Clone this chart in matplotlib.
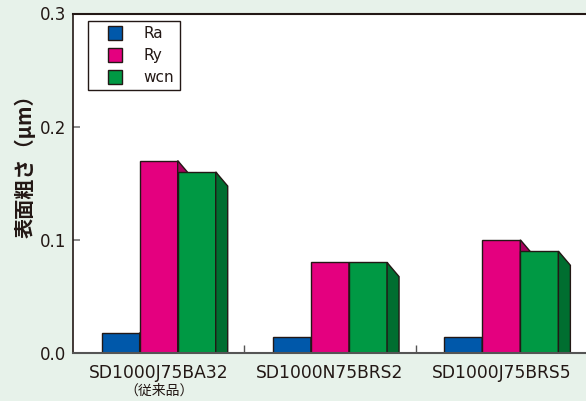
import numpy as np
import matplotlib
matplotlib.use("Agg")
import matplotlib.pyplot as plt
from matplotlib.patches import Polygon
from matplotlib.lines import Line2D

# データ
grades = ["SD1000J75BA32", "SD1000N75BRS2", "SD1000J75BRS5"]
series = ["Ra", "Ry", "wcn"]
ra = [0.018, 0.014, 0.014]
ry = [0.170, 0.080, 0.100]
wcn = [0.160, 0.080, 0.090]
yticks = [0.0, 0.1, 0.2, 0.3]

front = ["#0058aa", "#e4007f", "#009944"]
side = ["#003d7a", "#a8005e", "#006e30"]
edge = "#231815"
bg = "#e7f2ea"

jp = ["Noto Sans CJK JP", "DejaVu Sans"]

fig = plt.figure(figsize=(5.86, 4.01), dpi=100, facecolor=bg)
ax = fig.add_axes([73/586, 48/401, 514/586, 339.5/401])
ax.set_facecolor("white")

x = np.arange(len(grades))
w = 0.222
dx = 0.070   # 奥行き(横)
dy = 0.0125  # 奥行き(縦)

vals = [ra, ry, wcn]
z = 2
for g in range(len(grades)):
    for k in range(3):
        xc = x[g] + (k - 1) * w
        v = vals[k][g]
        ax.bar(xc, v, width=w, color=front[k], edgecolor=edge, linewidth=1.0, zorder=z)
        x1 = xc + w / 2
        pts = [(x1, v), (x1 + dx, v - dy), (x1 + dx, 0), (x1, 0)]
        ax.add_patch(Polygon(pts, closed=True, facecolor=side[k], edgecolor=edge,
                             linewidth=1.0, zorder=z + 0.5))
        z += 1

ax.set_xlim(-0.5, 2.5)
ax.set_ylim(0, 0.3)

ax.spines["right"].set_visible(False)
ax.spines["top"].set_color(edge)
ax.spines["top"].set_linewidth(1.5)
ax.spines["left"].set_color(edge)
ax.spines["left"].set_linewidth(1.2)
ax.spines["bottom"].set_color("#555555")
ax.spines["bottom"].set_linewidth(1.5)
ax.spines["bottom"].set_zorder(50)

ax.set_yticks(yticks)
ax.set_yticklabels([f"{t:.1f}" for t in yticks])
ax.tick_params(axis="y", direction="in", length=5, width=1.2, color="#777777",
               pad=5, labelsize=12, labelcolor=edge)

ax.set_xticks(x)
ax.set_xticklabels(grades)
ax.set_xticks([0.5, 1.5], minor=True)
ax.tick_params(axis="x", which="major", length=0, pad=8, labelsize=12.3, labelcolor=edge)
ax.tick_params(axis="x", which="minor", direction="in", length=6, width=1.0, color="#555555")

ax.text(0, -0.112, "（従来品）", ha="center", va="center", fontsize=10,
        family=jp, color=edge, transform=ax.get_xaxis_transform())

fig.text(25/586, 1 - 161/401, "表面粗さ（μm）", rotation=90, ha="center", va="center",
         fontsize=14.5, family=jp, fontweight="bold", color=edge)

handles = [Line2D([], [], linestyle="none", marker="s", markersize=9.4,
                  markerfacecolor=c, markeredgecolor=edge, markeredgewidth=1.0)
           for c in front]
leg = ax.legend(handles, series, loc="upper left", bbox_to_anchor=(0.029, 0.978),
                borderaxespad=0, fontsize=11, handlelength=2.8, handletextpad=0.5,
                labelspacing=0.45, borderpad=0.35, fancybox=False, framealpha=1,
                edgecolor=edge)
leg.get_frame().set_linewidth(1.0)
leg.set_zorder(60)
for t in leg.get_texts():
    t.set_color(edge)

fig.savefig("out.png", dpi=100, facecolor=bg)
